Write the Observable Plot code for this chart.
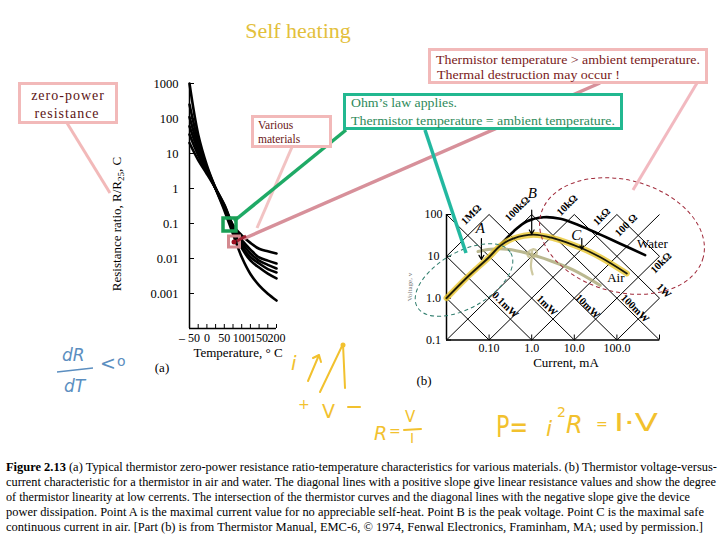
<!DOCTYPE html>
<html>
<head>
<meta charset="utf-8">
<script src="https://cdn.jsdelivr.net/npm/d3@7"></script>
<script src="https://cdn.jsdelivr.net/npm/@observablehq/plot@0.6"></script>
<style>
  body { margin: 0; background: #fff; }
  #slide { position: relative; width: 720px; height: 540px; overflow: hidden; background: #fff; }
  #chartA, #chartB, #overlay { position: absolute; }
  #chartA { left: 100px; top: 60px; }
  #chartB { left: 390px; top: 170px; }
  #overlay { left: 0; top: 0; }
  #overlay text { font-family: "Liberation Serif", "Times New Roman", serif; }
  .hand { font-family: "DejaVu Sans", sans-serif !important; }
</style>
</head>
<body>
<div id="slide">
  <div id="chartA"></div>
  <div id="chartB"></div>
  <svg id="overlay" width="720" height="540" viewBox="0 0 720 540">
    <!-- title -->
    <text x="298" y="38" text-anchor="middle" font-size="22" fill="#e3c03c">Self heating</text>

    <!-- axis titles and panel tags -->
    <text transform="translate(121,224) rotate(-90)" text-anchor="middle" font-size="13">Resistance ratio, R/R<tspan font-size="9" dy="3">25</tspan><tspan dy="-3">, C</tspan></text>
    <text x="238" y="357" text-anchor="middle" font-size="13">Temperature, ° C</text>
    <text x="162" y="372" text-anchor="middle" font-size="13">(a)</text>
    <text x="566" y="367" text-anchor="middle" font-size="13">Current, mA</text>
    <text x="424" y="385" text-anchor="middle" font-size="13">(b)</text>
    <text transform="translate(412,287) rotate(-90)" text-anchor="middle" font-size="7" fill="#777">Voltage, v</text>

    <!-- dashed regions on the V-I chart -->
    <ellipse cx="464" cy="280" rx="54" ry="28" transform="rotate(-30 464 280)" fill="none" stroke="#2f7d6d" stroke-width="1" stroke-dasharray="4 3"/>
    <ellipse cx="622" cy="236" rx="84" ry="56" transform="rotate(15 622 236)" fill="none" stroke="#a02a3a" stroke-width="1" stroke-dasharray="4 3"/>

    <!-- callout leaders -->
    <line x1="67" y1="123" x2="110" y2="193" stroke="#f2b9b9" stroke-width="3"/>
    <line x1="292" y1="147" x2="257" y2="228" stroke="#f2c3c3" stroke-width="3"/>
    <line x1="600" y1="83" x2="243" y2="239" stroke="#d7909a" stroke-width="3.5"/>
    <line x1="697" y1="83" x2="633" y2="190" stroke="#f2b9c0" stroke-width="3"/>
    <line x1="346" y1="130" x2="234" y2="221" stroke="#1faa66" stroke-width="3.5"/>
    <line x1="425" y1="130" x2="466" y2="253" stroke="#22b8a0" stroke-width="3.5"/>

    <!-- highlight squares on the resistance chart -->
    <rect x="223" y="218" width="13" height="13" fill="none" stroke="#1a9e55" stroke-width="3.5"/>
    <rect x="228.5" y="236" width="11" height="11" fill="none" stroke="#d48a90" stroke-width="3"/>
    <line x1="237" y1="241" x2="246" y2="236" stroke="#a02030" stroke-width="3"/>
    <circle cx="234" cy="242" r="2.5" fill="#9c1020"/>

    <!-- callout boxes -->
    <rect x="19.5" y="83.5" width="97" height="39" fill="#fff" stroke="#f2b9b9" stroke-width="3"/>
    <text x="68" y="100" text-anchor="middle" font-size="14" fill="#5c1414" letter-spacing="1">zero-power</text>
    <text x="67" y="118" text-anchor="middle" font-size="14" fill="#5c1414" letter-spacing="1">resistance</text>

    <rect x="252.5" y="116.5" width="78" height="30" fill="#fff" stroke="#f2b9b9" stroke-width="3"/>
    <text x="258" y="129" font-size="11.5" fill="#6a1616">Various</text>
    <text x="258" y="143" font-size="11.5" fill="#6a1616">materials</text>

    <rect x="429.5" y="49.5" width="277" height="33" fill="#fff" stroke="#f2b9b9" stroke-width="3"/>
    <text x="436" y="64" font-size="12.5" fill="#7a1a1a" textLength="264" lengthAdjust="spacingAndGlyphs">Thermistor temperature &gt; ambient temperature.</text>
    <text x="437" y="79" font-size="12.5" fill="#7a1a1a" textLength="183" lengthAdjust="spacingAndGlyphs">Thermal destruction may occur !</text>

    <rect x="344.5" y="94.5" width="277" height="34" fill="#fff" stroke="#22b890" stroke-width="3"/>
    <text x="351" y="107" font-size="12.5" fill="#2e8a5a" textLength="106" lengthAdjust="spacingAndGlyphs">Ohm’s law applies.</text>
    <text x="351" y="125" font-size="12.5" fill="#2e8a5a" textLength="264" lengthAdjust="spacingAndGlyphs">Thermistor temperature = ambient temperature.</text>

    <!-- hand-written notes -->
    <g fill="#5b8ec0" stroke="none">
      <text class="hand" x="62" y="361" font-size="17" font-style="italic">dR</text>
      <text class="hand" x="64" y="392" font-size="17" font-style="italic">dT</text>
      <text class="hand" x="100" y="370" font-size="19">&lt;</text>
      <text class="hand" x="117" y="366" font-size="14">o</text>
    </g>
    <line x1="57" y1="372" x2="93" y2="368" stroke="#5b8ec0" stroke-width="1.6"/>

    <g fill="#f2c12e" stroke="none">
      <text class="hand" x="291" y="370" font-size="20" font-style="italic">i</text>
      <text class="hand" x="298" y="409" font-size="14">+</text>
      <text class="hand" x="322" y="418" font-size="19">V</text>
      <text class="hand" x="374" y="440" font-size="19" font-style="italic">R</text>
      <text class="hand" x="389" y="436" font-size="14">=</text>
      <text class="hand" x="405" y="422" font-size="15">V</text>
      <text class="hand" x="410" y="443" font-size="14">I</text>
      <text class="hand" x="496" y="437" font-size="30" textLength="32" lengthAdjust="spacingAndGlyphs">P=</text>
      <text class="hand" x="546" y="436" font-size="22" font-style="italic">i</text>
      <text class="hand" x="557" y="417" font-size="14">2</text>
      <text class="hand" x="566" y="433" font-size="24" font-style="italic">R</text>
      <text class="hand" x="596" y="429" font-size="14">=</text>
      <text class="hand" x="614" y="431" font-size="24" textLength="44" lengthAdjust="spacingAndGlyphs">I·V</text>
    </g>
    <g fill="none" stroke="#f2c12e" stroke-width="2" stroke-linecap="round" stroke-linejoin="round">
      <path d="M308 381 L319 355 M313 358 L319 355 L321 362"/>
      <path d="M320 392 L343 344 L345 388"/>
      <path d="M348 407 L360 407"/>
      <path d="M404 430 L421 429"/>
    </g>
    <circle cx="343" cy="345" r="2.5" fill="#f2c12e"/>

    <!-- figure caption -->
    <g font-size="12" fill="#000" style="white-space: pre">
      <text x="6" y="471" textLength="711" lengthAdjust="spacingAndGlyphs"><tspan font-weight="bold">Figure 2.13</tspan>  (a) Typical thermistor zero-power resistance ratio-temperature characteristics for various materials.  (b) Thermistor voltage-versus-</text>
      <text x="6" y="486" textLength="710" lengthAdjust="spacingAndGlyphs">current characteristic for a thermistor in air and water.  The diagonal lines with a positive slope give linear resistance values and show the degree</text>
      <text x="6" y="501" textLength="684" lengthAdjust="spacingAndGlyphs">of thermistor linearity at low cerrents.  The intersection of the thermistor curves and the diagonal lines with the negative slope give the device</text>
      <text x="6" y="516" textLength="698" lengthAdjust="spacingAndGlyphs">power dissipation.  Point A is the maximal current value for no appreciable self-heat.  Point B is the peak voltage.  Point C is the maximal safe</text>
      <text x="6" y="531" textLength="697" lengthAdjust="spacingAndGlyphs">continuous current in air.  [Part (b) is from Thermistor Manual, EMC-6, © 1974, Fenwal Electronics, Framinham, MA; used by permission.]</text>
    </g>
  </svg>
</div>
<script>
// ---- (a) zero-power resistance ratio R/R25 versus temperature ----
const temperatureC = [-50, -25, 0, 25, 50, 75, 100, 125, 150, 175, 200];
const ratioMaterial1 = [20, 6.5, 2.6, 1, 0.35, 0.09, 0.046, 0.028, 0.019, 0.016, 0.0139];
const ratioMaterial2 = [35, 9, 3.0, 1, 0.33, 0.085, 0.034, 0.018, 0.0107, 0.0087, 0.0072];
const ratioMaterial3 = [60, 12, 3.3, 1, 0.31, 0.08, 0.028, 0.014, 0.0087, 0.0066, 0.0052];
const ratioMaterial4 = [110, 16, 3.6, 1, 0.29, 0.075, 0.023, 0.011, 0.0072, 0.005, 0.004];
const ratioMaterial5 = [250, 22, 4.0, 1, 0.27, 0.07, 0.02, 0.0088, 0.0055, 0.0037, 0.0027];
const ratioMaterial6 = [1000, 35, 4.6, 1, 0.24, 0.05, 0.011, 0.0036, 0.0017, 0.00098, 0.00063];

const tempTicks = [-50, -25, 0, 25, 50, 75, 100, 125, 150, 175, 200];
const tempTickLabels = ["– 50", "", "0", "", "50", "", "100", "", "150", "", "200"];
const ratioTicks = [1000, 100, 10, 1, 0.1, 0.01, 0.001];
const ratioTickLabels = ["1000", "100", "10", "1", "0.1", "0.01", "0.001"];

// ---- (b) thermistor voltage versus current ----
const waterCurrent = [0.01, 0.03, 0.1, 0.185, 0.38, 0.78, 1.9, 4.7, 13.7, 41, 120, 460];
const waterVoltage = [1.0, 3.1, 9.6, 19, 40, 69, 86, 79, 54, 33, 20, 10.7];
const airCurrent = [0.01, 0.03, 0.1, 0.185, 0.38, 1.1, 3.3, 15, 41, 171];
const airVoltage = [1.0, 3.1, 9.6, 18, 27, 33, 27, 15.6, 9.5, 3.9];
// hand-drawn highlighter stroke and its loop
const sketchCurrent = [0.055, 0.107, 0.265, 0.78, 2.74, 9.64, 40.6];
const sketchVoltage = [13.0, 14.8, 14.8, 11.8, 7.85, 4.67, 2.02];
const loopCurrent = [1.07, 0.85, 0.81, 0.98, 1.26, 1.29, 1.07, 1.0, 0.96, 1.05];
const loopVoltage = [14.8, 13.0, 10.4, 9.3, 10.8, 13.5, 14.8, 8.9, 5.6, 3.7];

const currentTicks = [0.1, 1, 10, 100, 1000];
const currentTickLabels = ["0.10", "1.0", "10.0", "100.0", ""];
const voltageTicks = [100, 10, 1, 0.1];
const voltageTickLabels = ["100", "10", "1.0", "0.1"];

// constant-resistance lines (kΩ, V = R·I with I in mA) and constant-power lines (mW, V = P/I)
const resistanceKOhm = [1000, 100, 10, 1, 0.1, 0.01, 0.001];
const powerMilliwatt = [0.01, 0.1, 1, 10, 100, 1000, 10000];

const resistanceLabels = ["1MΩ", "100kΩ", "10kΩ", "1kΩ", "100 Ω", "10kΩ"];
const resistanceLabelCurrent = [0.038, 0.46, 6.8, 44, 164, 1084];
const resistanceLabelVoltage = [100, 138, 168, 89, 56, 7.0];
const powerLabels = ["0.1mW", "1mW", "10mW", "100mW", "1W"];
const powerLabelCurrent = [0.24, 2.3, 20.6, 267, 1274];
const powerLabelVoltage = [0.69, 0.67, 0.64, 0.57, 1.5];

const pointNames = ["A", "B", "C"];
const pointCurrent = [0.066, 1.0, 15];
const pointLabelVoltage = [47, 326, 32];
const pointLabelCurrent = [0.0625, 1.03, 11.1];
const arrowFromVoltage = [26.7, 127, 26.7];
const arrowToVoltage = [8.4, 34, 14.8];

const mediumNames = ["Water", "Air"];
const mediumLabelCurrent = [297, 59];
const mediumLabelVoltage = [15.6, 2.5];

// ---------- build chart (a) ----------
const materials = [ratioMaterial1, ratioMaterial2, ratioMaterial3, ratioMaterial4, ratioMaterial5, ratioMaterial6];
const ratioRows = materials.flatMap((vals, m) => vals.map((r, i) => ({material: m, t: temperatureC[i], r})));
const tempLabel = new Map(tempTicks.map((t, i) => [t, tempTickLabels[i]]));
const ratioLabel = new Map(ratioTicks.map((t, i) => [t, ratioTickLabels[i]]));
const serif = "Liberation Serif, Times New Roman, serif";

const chartA = Plot.plot({
  width: 200, height: 310,
  marginLeft: 89, marginRight: 24, marginTop: 23, marginBottom: 42,
  style: {background: "transparent", fontFamily: serif, fontSize: "12.5px", color: "#000"},
  x: {domain: [-50, 200]},
  y: {type: "log", domain: [1e-4, 1000]},
  marks: [
    Plot.axisX(tempTicks, {tickSize: -4, tickPadding: 9, tickFormat: d => tempLabel.get(d), label: null, fontSize: 12}),
    Plot.axisY(ratioTicks, {tickSize: -5, tickPadding: 16, tickFormat: d => ratioLabel.get(d), label: null, fontSize: 12.5}),
    Plot.ruleX([-50], {stroke: "#000", strokeWidth: 1.5}),
    Plot.ruleY([1e-4], {stroke: "#000", strokeWidth: 1.5}),
    Plot.line(ratioRows, {x: "t", y: "r", z: "material", curve: "catmull-rom", stroke: "#000", strokeWidth: 2.6})
  ]
});
document.getElementById("chartA").append(chartA);

// ---------- build chart (b) ----------
const iMin = 0.01, iMax = 1000, vMin = 0.1, vMax = 100;
const resistanceLines = resistanceKOhm
  .map(r => ({i1: Math.max(iMin, vMin / r), i2: Math.min(iMax, vMax / r), r}))
  .filter(d => d.i1 < d.i2)
  .map(d => ({...d, v1: d.r * d.i1, v2: d.r * d.i2}));
const powerLines = powerMilliwatt
  .map(p => ({i1: Math.max(iMin, p / vMax), i2: Math.min(iMax, p / vMin), p}))
  .filter(d => d.i1 < d.i2)
  .map(d => ({...d, v1: d.p / d.i1, v2: d.p / d.i2}));

const water = waterCurrent.map((c, i) => ({c, v: waterVoltage[i]}));
const air = airCurrent.map((c, i) => ({c, v: airVoltage[i]}));
const sketch = sketchCurrent.map((c, i) => ({c, v: sketchVoltage[i]}));
const loop = loopCurrent.map((c, i) => ({c, v: loopVoltage[i]}));
const rLabels = resistanceLabels.map((s, i) => ({s, c: resistanceLabelCurrent[i], v: resistanceLabelVoltage[i]}));
const pLabels = powerLabels.map((s, i) => ({s, c: powerLabelCurrent[i], v: powerLabelVoltage[i]}));
const points = pointNames.map((s, i) => ({s, c: pointCurrent[i], lc: pointLabelCurrent[i], lv: pointLabelVoltage[i], v1: arrowFromVoltage[i], v2: arrowToVoltage[i]}));
const media = mediumNames.map((s, i) => ({s, c: mediumLabelCurrent[i], v: mediumLabelVoltage[i]}));
const currentLabel = new Map(currentTicks.map((t, i) => [t, currentTickLabels[i]]));
const voltageLabel = new Map(voltageTicks.map((t, i) => [t, voltageTickLabels[i]]));

const chartB = Plot.plot({
  width: 300, height: 215,
  marginLeft: 56, marginRight: 31, marginTop: 44, marginBottom: 45.5,
  style: {background: "transparent", fontFamily: serif, fontSize: "12px", color: "#000"},
  x: {type: "log", domain: [iMin, iMax]},
  y: {type: "log", domain: [vMin, vMax]},
  marks: [
    Plot.link(resistanceLines, {x1: "i1", y1: "v1", x2: "i2", y2: "v2", stroke: "#000", strokeWidth: 1}),
    Plot.link(powerLines, {x1: "i1", y1: "v1", x2: "i2", y2: "v2", stroke: "#000", strokeWidth: 1}),
    Plot.axisX(currentTicks, {tickSize: -5, tickPadding: 8.5, tickFormat: d => currentLabel.get(d), label: null, fontSize: 12}),
    Plot.axisY(voltageTicks, {tickSize: -5, tickPadding: 18, textAnchor: "middle", tickFormat: d => voltageLabel.get(d), label: null, fontSize: 12}),
    Plot.ruleX([iMin], {stroke: "#000", strokeWidth: 1.5}),
    Plot.ruleY([vMin], {stroke: "#000", strokeWidth: 1.5}),
    Plot.line(sketch, {x: "c", y: "v", curve: "catmull-rom", stroke: "#aeac7c", strokeWidth: 3, strokeOpacity: 0.85}),
    Plot.line(loop, {x: "c", y: "v", curve: "catmull-rom", stroke: "#c2bb8a", strokeWidth: 2.2, strokeOpacity: 0.8}),
    Plot.line(water, {x: "c", y: "v", curve: "catmull-rom", stroke: "#000", strokeWidth: 2.6}),
    Plot.line(air, {x: "c", y: "v", curve: "catmull-rom", stroke: "#e8c62e", strokeWidth: 6, strokeOpacity: 0.8}),
    Plot.line(air, {x: "c", y: "v", curve: "catmull-rom", stroke: "#1a1a0a", strokeWidth: 1.8}),
    Plot.text(rLabels, {x: "c", y: "v", text: "s", rotate: -45, fontSize: 10.5, fontWeight: "bold", fontFamily: serif}),
    Plot.text(pLabels, {x: "c", y: "v", text: "s", rotate: 45, fontSize: 10.5, fontWeight: "bold", fontFamily: serif}),
    Plot.arrow(points, {x1: "c", y1: "v1", x2: "c", y2: "v2", stroke: "#000", strokeWidth: 1.2, headLength: 6}),
    Plot.text(points, {x: "lc", y: "lv", text: "s", fontSize: 15, fontStyle: "italic", fontFamily: serif}),
    Plot.text(media, {x: "c", y: "v", text: "s", textAnchor: "start", lineAnchor: "bottom", fontSize: 13, fontFamily: serif})
  ]
});
document.getElementById("chartB").append(chartB);
</script>
</body>
</html>
